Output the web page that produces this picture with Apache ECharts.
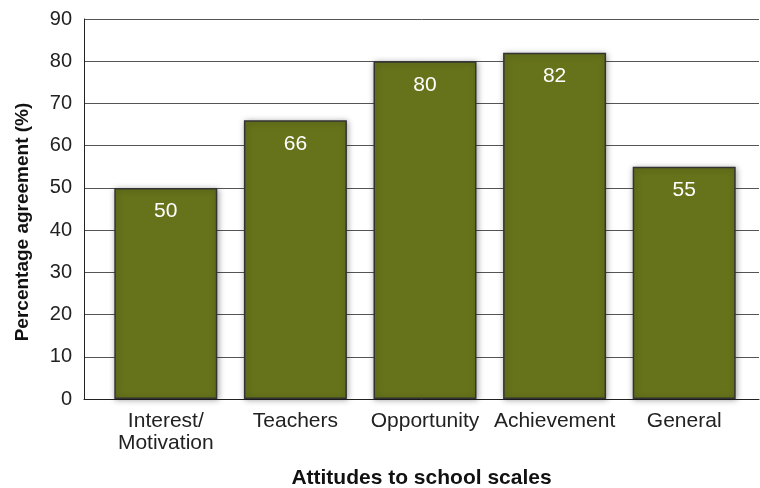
<!DOCTYPE html>
<html>
<head>
<meta charset="utf-8">
<script src="https://cdn.jsdelivr.net/npm/echarts@6/dist/echarts.min.js"></script>
<style>html,body{margin:0;padding:0;background:#fff}#c{width:760px;height:488px}</style>
</head>
<body>
<div id="c"></div>
<script>
const categories = ['Interest/\nMotivation', 'Teachers', 'Opportunity', 'Achievement', 'General'];
const values = [50, 66, 80, 82, 55];
const yMin = 0, yMax = 90, yStep = 10;
const xTitle = 'Attitudes to school scales';
const yTitle = 'Percentage agreement (%)';

const chart = echarts.init(document.getElementById('c'), null, {renderer: 'canvas'});
const font = 'Liberation Sans, Arial, Helvetica, sans-serif';
chart.setOption({
  animation: false,
  backgroundColor: '#fff',
  grid: [
    {left: 84, right: 1, top: 19, bottom: 89, containLabel: false, outerBoundsMode: 'none'},
    {left: 101, right: 11, top: 19, bottom: 89, containLabel: false, outerBoundsMode: 'none'}
  ],
  xAxis: [
    {gridIndex: 0, type: 'category', data: categories, axisLine: {show: true, lineStyle: {color: '#222', width: 1}},
     axisTick: {show: false}, axisLabel: {show: false}, splitLine: {show: false},
     name: xTitle, nameLocation: 'middle', nameGap: 69,
     nameTextStyle: {fontFamily: font, fontSize: 21, fontWeight: 'bold', color: '#111'}},
    {gridIndex: 1, type: 'category', data: categories, axisLine: {show: false}, axisTick: {show: false},
     axisLabel: {interval: 0, hideOverlap: false, fontFamily: font, fontSize: 21, color: '#222', margin: 11, lineHeight: 22}}
  ],
  yAxis: [
    {gridIndex: 0, type: 'value', min: yMin, max: yMax, interval: yStep,
     axisLine: {show: true, lineStyle: {color: '#222', width: 1}}, axisTick: {show: false},
     axisLabel: {fontFamily: font, fontSize: 20, color: '#222', margin: 12},
     splitLine: {show: true, lineStyle: {color: '#555', width: 1}},
     name: yTitle, nameLocation: 'middle', nameGap: 52,
     nameTextStyle: {fontFamily: font, fontSize: 19, fontWeight: 'bold', color: '#111', padding: [0, 26, 0, 0]}},
    {gridIndex: 1, type: 'value', min: yMin, max: yMax, interval: yStep, show: false}
  ],
  series: [{
    type: 'bar', xAxisIndex: 1, yAxisIndex: 1, data: values, barWidth: 103,
    itemStyle: {color: '#66731a', borderColor: '#333', borderWidth: 1.5,
      shadowColor: 'rgba(0,0,0,0.35)', shadowBlur: 6, shadowOffsetX: 1, shadowOffsetY: 1},
    label: {show: true, position: 'insideTop', distance: 13, color: '#fff', fontFamily: font, fontSize: 21}
  }]
});
</script>
</body>
</html>
